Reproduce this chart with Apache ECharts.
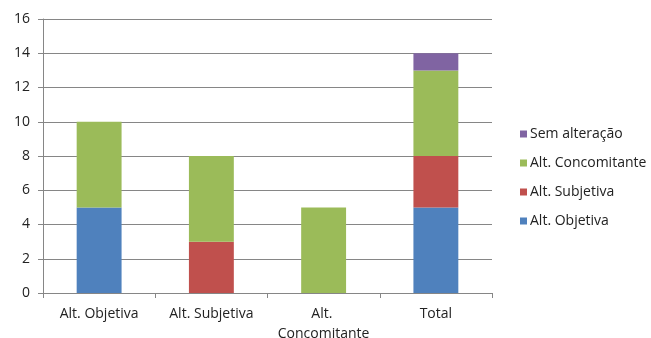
<!DOCTYPE html>
<html>
<head>
<meta charset="utf-8">
<script src="https://cdn.jsdelivr.net/npm/echarts@6/dist/echarts.min.js"></script>
<style>
  html, body { margin: 0; padding: 0; background: #fff; }
  #chart { width: 651px; height: 338px; }
</style>
</head>
<body>
<div id="chart"></div>
<script>
// Categories along the x axis
const categories = ['Alt. Objetiva', 'Alt. Subjetiva', 'Alt. Concomitante', 'Total'];

// Stacked series values, one per category
const altObjetiva = [5, 0, 0, 5];
const altSubjetiva = [0, 3, 0, 3];
const altConcomitante = [5, 5, 5, 5];
const semAlteracao = [0, 0, 0, 1];

// Y axis range and step
const yMin = 0;
const yMax = 16;
const yStep = 2;

const FONT = 'Open Sans';
const FONT_SIZE = 14;
const TEXT_COLOR = '#222';
const AXIS_COLOR = '#868686';

function stackSeries(name, data, color) {
  return {
    name: name,
    type: 'bar',
    stack: 'total',
    data: data,
    barWidth: '40%',
    itemStyle: { color: color },
    emphasis: { disabled: true }
  };
}

const chart = echarts.init(document.getElementById('chart'), null, { renderer: 'canvas' });
chart.setOption({
  animation: false,
  textStyle: { fontFamily: FONT },
  grid: { left: 43, right: 159, top: 19, bottom: 45, containLabel: false, outerBoundsMode: 'none' },
  legend: {
    orient: 'vertical',
    left: 515,
    top: 122,
    icon: 'rect',
    itemWidth: 7,
    itemHeight: 7,
    itemGap: 15,
    selectedMode: false,
    textStyle: { fontFamily: FONT, fontSize: FONT_SIZE, color: TEXT_COLOR, padding: [0, 0, 0, -2] },
    data: ['Sem alteração', 'Alt. Concomitante', 'Alt. Subjetiva', 'Alt. Objetiva']
  },
  xAxis: {
    type: 'category',
    data: categories,
    axisLine: { lineStyle: { color: AXIS_COLOR } },
    axisTick: { show: true, length: 5, lineStyle: { color: AXIS_COLOR } },
    axisLabel: {
      color: TEXT_COLOR,
      fontFamily: FONT,
      fontSize: FONT_SIZE,
      margin: 11,
      lineHeight: 20,
      width: 105,
      overflow: 'break',
      interval: 0
    }
  },
  yAxis: {
    type: 'value',
    min: yMin,
    max: yMax,
    interval: yStep,
    axisLine: { show: true, lineStyle: { color: AXIS_COLOR } },
    axisTick: { show: true, length: 5, lineStyle: { color: AXIS_COLOR } },
    splitLine: { lineStyle: { color: AXIS_COLOR } },
    axisLabel: { color: TEXT_COLOR, fontFamily: FONT, fontSize: FONT_SIZE, margin: 13 }
  },
  series: [
    stackSeries('Alt. Objetiva', altObjetiva, '#4F81BD'),
    stackSeries('Alt. Subjetiva', altSubjetiva, '#C0504D'),
    stackSeries('Alt. Concomitante', altConcomitante, '#9BBB59'),
    stackSeries('Sem alteração', semAlteracao, '#8064A2')
  ]
});
</script>
</body>
</html>
